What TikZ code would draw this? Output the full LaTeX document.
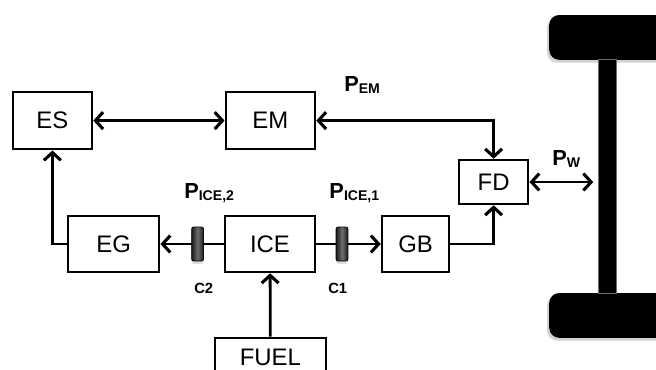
\documentclass[tikz,border=0pt]{standalone}
\usepackage{fontspec}
\setmainfont{Liberation Sans}
\usetikzlibrary{arrows.meta,shadows}

\definecolor{tirecolor}{RGB}{0,0,0}
\definecolor{axleedge}{RGB}{125,95,135}
\definecolor{clutchdark}{RGB}{25,25,25}
\definecolor{clutchlight}{RGB}{110,110,110}

\tikzset{
  block/.style={draw, line width=1.8pt, inner sep=0pt, font=\fontsize{17}{20}\selectfont},
  flow/.style={line width=2pt, -{Straight Barb[length=5.5pt,width=12pt,line width=2.2pt]}},
  biflow/.style={line width=2pt, {Straight Barb[length=5.5pt,width=12pt,line width=2.2pt]}-{Straight Barb[length=5.5pt,width=12pt,line width=2.2pt]}},
  clutch/.style={draw=black, line width=0.5pt, rounded corners=1.5pt, minimum width=0.30cm, minimum height=0.85cm, inner sep=0pt,
    left color=clutchdark, right color=clutchdark, middle color=clutchlight,
    drop shadow={shadow xshift=0pt, shadow yshift=-2pt, opacity=0.25}},
  powlabel/.style={anchor=base west, inner sep=0pt, font=\fontsize{15.5}{17}\selectfont\bfseries},
  clabel/.style={anchor=base west, inner sep=0pt, font=\fontsize{10.5}{12}\selectfont\bfseries}
}
\newcommand{\pwr}[1]{P\raisebox{-2pt}{\fontsize{10}{11}\selectfont\bfseries #1}}

\begin{document}
\begin{tikzpicture}
\useasboundingbox (0,0) rectangle (16.40,9.225);
% wheels and axle
\fill[tirecolor, rounded corners=0.25cm, drop shadow={shadow xshift=-1.5pt, shadow yshift=-2pt, opacity=0.35}] (13.73,7.73) rectangle (16.90,8.85);
\fill[tirecolor, rounded corners=0.25cm, drop shadow={shadow xshift=-1.5pt, shadow yshift=-2pt, opacity=0.35}] (13.73,0.78) rectangle (16.90,1.90);
\filldraw[fill=tirecolor, draw=axleedge, line width=0.7pt] (14.96,1.90) rectangle (15.40,7.73);
\coordinate (wheel) at (14.83,4.675);

% blocks
\node[block, minimum width=1.98cm, minimum height=1.43cm] (es) at (1.31,6.21) {ES};
\node[block, minimum width=2.23cm, minimum height=1.43cm] (em) at (6.76,6.21) {EM};
\node[block, minimum width=1.73cm, minimum height=1.10cm] (fd) at (12.34,4.675) {FD};
\node[block, minimum width=2.28cm, minimum height=1.40cm] (eg) at (2.84,3.125) {EG};
\node[block, minimum width=2.25cm, minimum height=1.40cm] (ice) at (6.75,3.125) {ICE};
\node[block, minimum width=1.68cm, minimum height=1.40cm] (gb) at (10.39,3.125) {GB};
\node[block, minimum width=2.78cm, minimum height=0.95cm] (fuel) at (6.76,0.30) {FUEL};

% power flows
\draw[biflow] (es) -- (em);
\draw[biflow] (em.east) -| (fd.north);
\draw[biflow] (fd) -- (wheel);
\draw[flow] (gb.east) -| (fd.south);
\draw[flow] (eg.west) -| (es.south);
\draw[flow] (ice) -- (eg);
\draw[flow] (ice) -- (gb);
\draw[flow] (fuel) -- (ice);

% clutches
\node[clutch] (c2) at (4.94,3.125) {};
\node[clutch] (c1) at (8.55,3.125) {};

% labels
\node[powlabel] (pem) at (8.60,6.95) {\pwr{EM}};
\node[powlabel] (pw) at (13.80,5.10) {\pwr{W}};
\node[powlabel] (pice2) at (4.60,4.275) {\pwr{ICE,2}};
\node[powlabel] (pice1) at (8.23,4.275) {\pwr{ICE,1}};
\node[clabel] (lc2) at (4.85,1.90) {C2};
\node[clabel] (lc1) at (8.20,1.90) {C1};
\end{tikzpicture}
\end{document}
